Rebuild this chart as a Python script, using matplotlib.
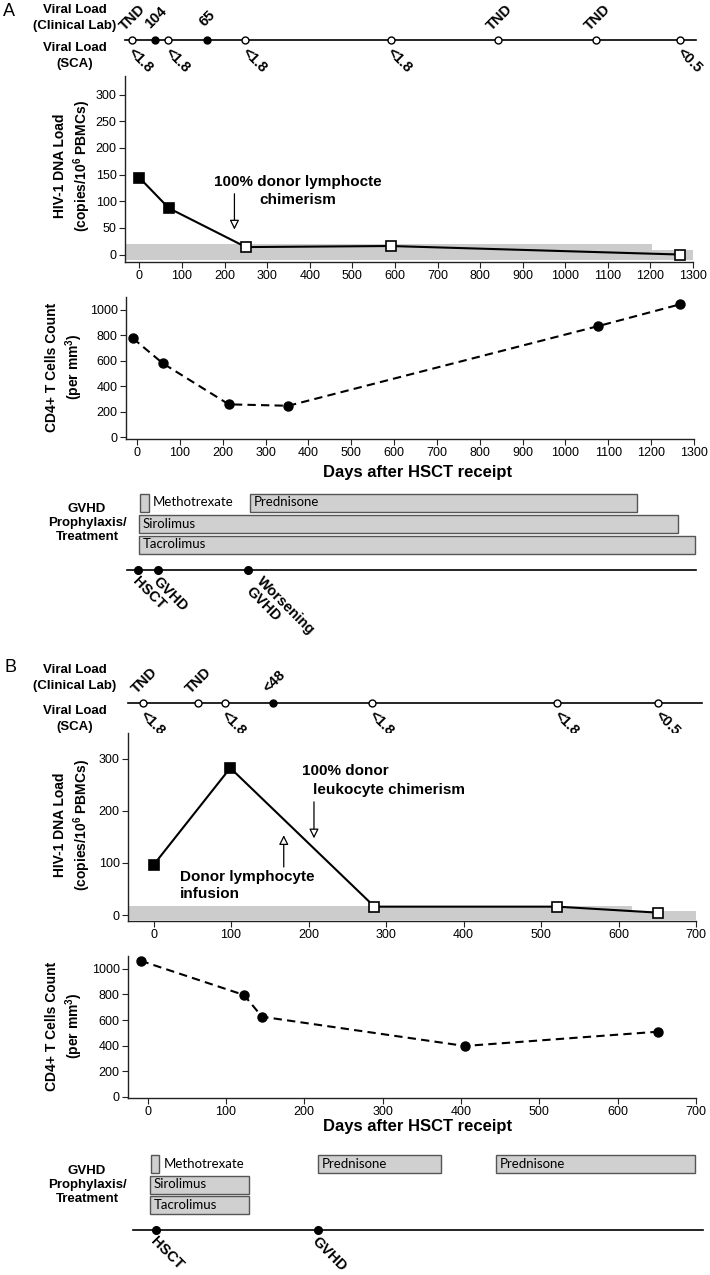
import numpy as np
import matplotlib.pyplot as plt

plt.rcParams['font.family'] = ['Liberation Sans', 'DejaVu Sans']
plt.rcParams['mathtext.fontset'] = 'custom'
plt.rcParams['mathtext.rm'] = 'Liberation Sans'
plt.rcParams['mathtext.bf'] = 'Liberation Sans:bold'
plt.rcParams['mathtext.default'] = 'bf'

NARROW = ['Liberation Sans Narrow', 'Liberation Sans', 'DejaVu Sans']
BAR_FONT = ['Lato', 'Liberation Sans', 'DejaVu Sans']

# ---------------- panel A data ----------------
vl_days_a = [-18, 37, 68, 158, 249, 590, 843, 1073, 1270]
vl_filled_a = [False, True, False, True, False, False, False, False, False]
vl_clin_a = ['TND', '104', '', '65', '', '', 'TND', 'TND', '']
vl_sca_a = ['<1.8', '', '<1.8', '', '<1.8', '<1.8', '', '', '<0.5']

dna_days_a = [0, 69, 250, 590, 1270]
dna_vals_a = [144, 87, 14, 16, 0]
dna_open_a = [False, False, True, True, True]
lod_days_a = [-34, 1203, 1300]
lod_vals_a = [19, 8, 8]

cd4_days_a = [-10, 60, 214, 353, 1077, 1268]
cd4_vals_a = [778, 581, 259, 248, 874, 1045]

drugs_a = ['Methotrexate', 'Prednisone', 'Sirolimus', 'Tacrolimus']
drug_start_a = [6, 264, 4, 4]
drug_end_a = [27, 1167, 1263, 1303]
drug_row_a = [0, 0, 1, 2]
events_a = ['HSCT', 'GVHD', 'Worsening\nGVHD']
event_days_a = [1, 49, 259]

# ---------------- panel B data ----------------
vl_days_b = [-13, 57, 92, 154, 282, 521, 651]
vl_filled_b = [False, False, False, True, False, False, False]
vl_clin_b = ['TND', 'TND', '', '<48', '', '', '']
vl_sca_b = ['<1.8', '', '<1.8', '', '<1.8', '<1.8', '<0.5']

dna_days_b = [0, 99, 285, 521, 651]
dna_vals_b = [96, 282, 16, 16, 4.5]
dna_open_b = [False, False, True, True, True]
lod_days_b = [-33, 618, 700]
lod_vals_b = [18, 8, 8]

cd4_days_b = [-9, 123, 146, 405, 652]
cd4_vals_b = [1064, 796, 626, 397, 509]

drugs_b = ['Methotrexate', 'Prednisone', 'Prednisone', 'Sirolimus', 'Tacrolimus']
drug_start_b = [4, 217, 445, 3, 3]
drug_end_b = [15, 374, 699, 129, 129]
drug_row_b = [0, 0, 0, 1, 2]
events_b = ['HSCT', 'GVHD']
event_days_b = [11, 217]

W, H = 710, 1275
fig = plt.figure(figsize=(W / 100, H / 100), dpi=100)


def px_axes(left, top, right, bottom):
    return fig.add_axes([left / W, 1 - bottom / H, (right - left) / W, (bottom - top) / H])


def ftext(x, y, s, **kw):
    fig.text(x / W, 1 - y / H, s, **kw)


def style(ax):
    for side in ['top', 'right']:
        ax.spines[side].set_visible(False)
    for side in ['left', 'bottom']:
        ax.spines[side].set_linewidth(1.0)
        ax.spines[side].set_color('#222222')
    ax.tick_params(direction='out', length=4, width=0.8, color='#222222',
                   labelsize=9, pad=2)
    for lab in ax.get_xticklabels() + ax.get_yticklabels():
        lab.set_family(NARROW)


def viral_timeline(ax, days, filled, clin, sca, xlim, y0, y1, line_y):
    ax.set_xlim(*xlim)
    ax.set_ylim(y1, y0)
    ax.axis('off')
    ax.plot([xlim[0], xlim[1] + 8], [line_y, line_y], color='black', lw=1.2,
            clip_on=False, zorder=1)
    for d, f, c, s in zip(days, filled, clin, sca):
        ax.plot(d, line_y, 'o', ms=5, mfc='black' if f else 'white',
                mec='black', mew=1, zorder=3, clip_on=False)
        if c:
            ax.annotate(c, (d, line_y), xytext=(1, 22), textcoords='offset pixels',
                        rotation=45, ha='center', va='center', rotation_mode='anchor',
                        fontsize=10.5, fontweight='bold')
        if s:
            ax.annotate(s, (d, line_y), xytext=(9, -20), textcoords='offset pixels',
                        rotation=-45, ha='center', va='center', rotation_mode='anchor',
                        fontsize=10.5, fontweight='bold')


def dna_plot(ax, days, vals, is_open, lod_x, lod_y, xlim, ylim, xticks, yticks):
    ax.fill_between(lod_x, -10, lod_y, step='post', color='#cccccc', lw=0, zorder=0)
    ax.plot(days, vals, color='black', lw=1.5, zorder=2)
    for d, v, o in zip(days, vals, is_open):
        ax.plot(d, v, 's', ms=7, mfc='white' if o else 'black', mec='black',
                mew=1.2, zorder=3, clip_on=False)
    ax.set_xlim(*xlim)
    ax.set_ylim(*ylim)
    ax.set_xticks(xticks)
    ax.set_yticks(yticks)
    style(ax)


def cd4_plot(ax, days, vals, xlim, ylim, xticks):
    ax.plot(days, vals, color='black', lw=1.5, ls=(0, (4, 2.5)), marker='o', ms=6.5,
            mfc='black', mec='black', clip_on=False, zorder=3)
    ax.set_xlim(*xlim)
    ax.set_ylim(*ylim)
    ax.set_xticks(xticks)
    ax.set_yticks(np.arange(0, 1001, 200))
    style(ax)


def gvhd_plot(ax, drugs, starts, ends, rows, events, ev_days, xlim, y0, y1,
              row_top, row_step, line_y, line_x):
    ax.set_xlim(*xlim)
    ax.set_ylim(y1, y0)
    ax.axis('off')
    for name, s, e, r in zip(drugs, starts, ends, rows):
        yc = row_top + row_step * r
        ax.barh(yc, e - s, left=s, height=18, color='#d0d0d0', edgecolor='#555555',
                lw=1, clip_on=False)
        span_px = (e - s) / (xlim[1] - xlim[0]) * 568
        anchor = e if span_px < 15 else s
        ax.annotate(name, (anchor, yc), xytext=(4, 0), textcoords='offset pixels',
                    ha='left', va='center', fontsize=9.5, family=BAR_FONT)
    ax.plot(line_x, [line_y, line_y], color='black', lw=1.2, clip_on=False)
    ax.plot(ev_days, [line_y] * len(ev_days), 'o', ms=5.5, color='black',
            clip_on=False)
    for name, d in zip(events, ev_days):
        n = name.count('\n')
        ax.annotate(name, (d, line_y), xytext=(2 + 14 * n, -4),
                    textcoords='offset pixels', rotation=-45, ha='left', va='top',
                    rotation_mode='anchor', fontsize=10.5, fontweight='bold',
                    linespacing=1.1)


def left_labels(y_clin, y_sca):
    ftext(75, y_clin, 'Viral Load\n(Clinical Lab)', ha='center', va='center',
          fontsize=9.5, fontweight='bold', linespacing=1.35)
    ftext(75, y_sca, 'Viral Load\n(SCA)', ha='center', va='center',
          fontsize=9.5, fontweight='bold', linespacing=1.35)


def gvhd_label(y):
    ftext(87, y, 'GVHD\nProphylaxis/\nTreatment', ha='center', va='center',
          fontsize=9.5, fontweight='bold', linespacing=1.2)


DNA_LABEL = 'HIV-1 DNA Load\n(copies/10$^6$ PBMCs)'
CD4_LABEL = 'CD4+ T Cells Count\n(per mm$^3$)'

# ---------------- panel A ----------------
xlim_dna_a = (-34, 1300)
xlim_cd4_a = (-26, 1300)
ticks_a = np.arange(0, 1301, 100)

ftext(9, 11, 'A', ha='center', va='center', fontsize=13)
left_labels(18, 56)
ax = px_axes(125, 0, 693, 76)
viral_timeline(ax, vl_days_a, vl_filled_a, vl_clin_a, vl_sca_a, xlim_dna_a, 0, 76, 40)

ax = px_axes(125, 76, 693, 262)
dna_plot(ax, dna_days_a, dna_vals_a, dna_open_a, lod_days_a, lod_vals_a,
         xlim_dna_a, (-14, 335), ticks_a, np.arange(0, 301, 50))
ax.text(373, 119, '100% donor lymphocte\nchimerism', ha='center', va='center',
        fontsize=11, fontweight='bold', linespacing=1.3)
ax.annotate('', xy=(223, 47), xytext=(223, 114),
            arrowprops=dict(arrowstyle='-|>', fc='white', ec='black', lw=0.9,
                            mutation_scale=14, shrinkA=0, shrinkB=0))
ftext(73, 166, DNA_LABEL, ha='center', va='center', rotation=90, fontsize=10,
      fontweight='bold', linespacing=1.3)

ax = px_axes(126, 297, 694, 439)
cd4_plot(ax, cd4_days_a, cd4_vals_a, xlim_cd4_a, (-13, 1102), ticks_a)
ftext(65, 367, CD4_LABEL, ha='center', va='center', rotation=90, fontsize=10,
      fontweight='bold', linespacing=1.3)
ftext(418, 473, 'Days after HSCT receipt', ha='center', va='center', fontsize=12,
      fontweight='bold')

gvhd_label(523)
ax = px_axes(126, 480, 694, 640)
gvhd_plot(ax, drugs_a, drug_start_a, drug_end_a, drug_row_a, events_a, event_days_a,
          xlim_cd4_a, 480, 640, 502.5, 21, 570, [-24, 1305])

# ---------------- panel B ----------------
xlim_dna_b = (-33, 700)
xlim_cd4_b = (-25, 700)
ticks_b = np.arange(0, 701, 100)

ftext(10, 668, 'B', ha='center', va='center', fontsize=13)
left_labels(678, 719)
ax = px_axes(128, 640, 696, 733)
viral_timeline(ax, vl_days_b, vl_filled_b, vl_clin_b, vl_sca_b, xlim_dna_b, 640, 733, 703)

ax = px_axes(128, 733, 696, 921)
dna_plot(ax, dna_days_b, dna_vals_b, dna_open_b, lod_days_b, lod_vals_b,
         xlim_dna_b, (-11.5, 349), ticks_b, [0, 100, 200, 300])
ax.text(34, 56, 'Donor lymphocyte\ninfusion', ha='left', va='center', fontsize=11,
        fontweight='bold', linespacing=1.3)
ax.annotate('', xy=(168, 153), xytext=(168, 92),
            arrowprops=dict(arrowstyle='-|>', fc='white', ec='black', lw=0.9,
                            mutation_scale=14, shrinkA=0, shrinkB=0))
ax.text(191, 276, '100% donor', ha='left', va='center', fontsize=11,
        fontweight='bold')
ax.text(206, 239, 'leukocyte chimerism', ha='left', va='center', fontsize=11,
        fontweight='bold')
ax.annotate('', xy=(207, 147), xytext=(207, 217),
            arrowprops=dict(arrowstyle='-|>', fc='white', ec='black', lw=0.9,
                            mutation_scale=14, shrinkA=0, shrinkB=0))
ftext(73, 825, DNA_LABEL, ha='center', va='center', rotation=90, fontsize=10,
      fontweight='bold', linespacing=1.3)

ax = px_axes(128, 956, 696, 1098)
cd4_plot(ax, cd4_days_b, cd4_vals_b, xlim_cd4_b, (-10, 1101), ticks_b)
ftext(65, 1026, CD4_LABEL, ha='center', va='center', rotation=90, fontsize=10,
      fontweight='bold', linespacing=1.3)
ftext(418, 1126, 'Days after HSCT receipt', ha='center', va='center', fontsize=12,
      fontweight='bold')

gvhd_label(1185)
ax = px_axes(128, 1140, 696, 1275)
gvhd_plot(ax, drugs_b, drug_start_b, drug_end_b, drug_row_b, events_b, event_days_b,
          xlim_cd4_b, 1140, 1275, 1164, 20.5, 1230, [-18, 709])

fig.savefig('out.png', dpi=100)
